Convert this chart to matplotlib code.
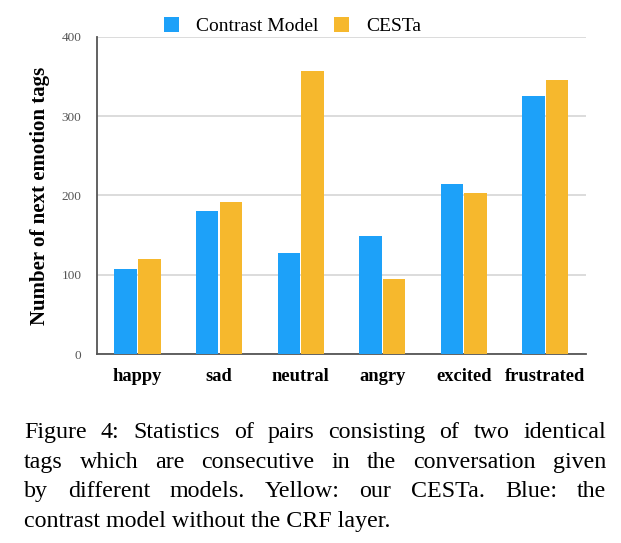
import numpy as np
import matplotlib.pyplot as plt

categories = ['happy', 'sad', 'neutral', 'angry', 'excited', 'frustrated']
contrast_model = [107, 181, 128, 149, 215, 325]
cesta = [120, 192, 357, 95, 203, 346]
yticks = [0, 100, 200, 300, 400]

caption_lines = [
    'Figure 4: Statistics of pairs consisting of two identical',
    'tags which are consecutive in the conversation given',
    'by different models.  Yellow: our CESTa.  Blue: the',
    'contrast model without the CRF layer.',
]

blue = '#1da1f9'
orange = '#f6b82d'
serif = ['Liberation Serif', 'DejaVu Serif']

fig = plt.figure(figsize=(6.21, 5.43), dpi=100)
ax = fig.add_axes([0.1557, 0.348, 0.788, 0.584])

x = np.arange(len(categories))
w = 0.275
ax.bar(x - 0.145, contrast_model, w, color=blue, label='Contrast Model', zorder=3)
ax.bar(x + 0.145, cesta, w, color=orange, label='CESTa', zorder=3)

ax.set_xlim(-0.5, len(categories) - 0.5)
ax.set_ylim(0, 400)
ax.set_yticks(yticks)
ax.set_yticklabels([str(t) for t in yticks], family=serif, fontsize=9.5, color='#555555')
ax.set_xticks(x)
ax.set_xticklabels(categories, family=serif, fontsize=13.3, fontweight='bold')
ax.tick_params(axis='both', length=0)
ax.tick_params(axis='y', pad=11)
ax.tick_params(axis='x', pad=10)
ax.yaxis.grid(True, color='#d9d9d9', linewidth=1.3, zorder=0)
ax.set_axisbelow(True)
for s in ['top', 'right']:
    ax.spines[s].set_visible(False)
for s in ['left', 'bottom']:
    ax.spines[s].set_color('#555555')
    ax.spines[s].set_linewidth(1.3)
ax.set_ylabel('Number of next emotion tags', family=serif, fontsize=15,
              fontweight='bold', labelpad=8)

ax.legend(loc='lower left', bbox_to_anchor=(0.1375, 1.005), ncol=2, frameon=False,
          prop={'family': serif, 'size': 14}, handlelength=0.75, handleheight=0.75,
          columnspacing=0.8, handletextpad=0.9, borderaxespad=0, borderpad=0)

# caption, justified word by word
fig.canvas.draw()
renderer = fig.canvas.get_renderer()
left, right = 24 / 621, 606 / 621
baselines = [438, 468, 497, 527]
for i, line in enumerate(caption_lines):
    words = line.split()
    yy = 1 - baselines[i] / 543
    if i == len(caption_lines) - 1:
        fig.text(left, yy, line, family=serif, fontsize=17.3, va='baseline', ha='left')
        continue
    texts = [fig.text(0, yy, wd, family=serif, fontsize=17.3, va='baseline') for wd in words]
    widths = [t.get_window_extent(renderer).width / 621 for t in texts]
    gap = (right - left - sum(widths)) / (len(words) - 1)
    pos = left
    for t, wd in zip(texts, widths):
        t.set_x(pos)
        pos += wd + gap

fig.savefig('out.png', dpi=100)
